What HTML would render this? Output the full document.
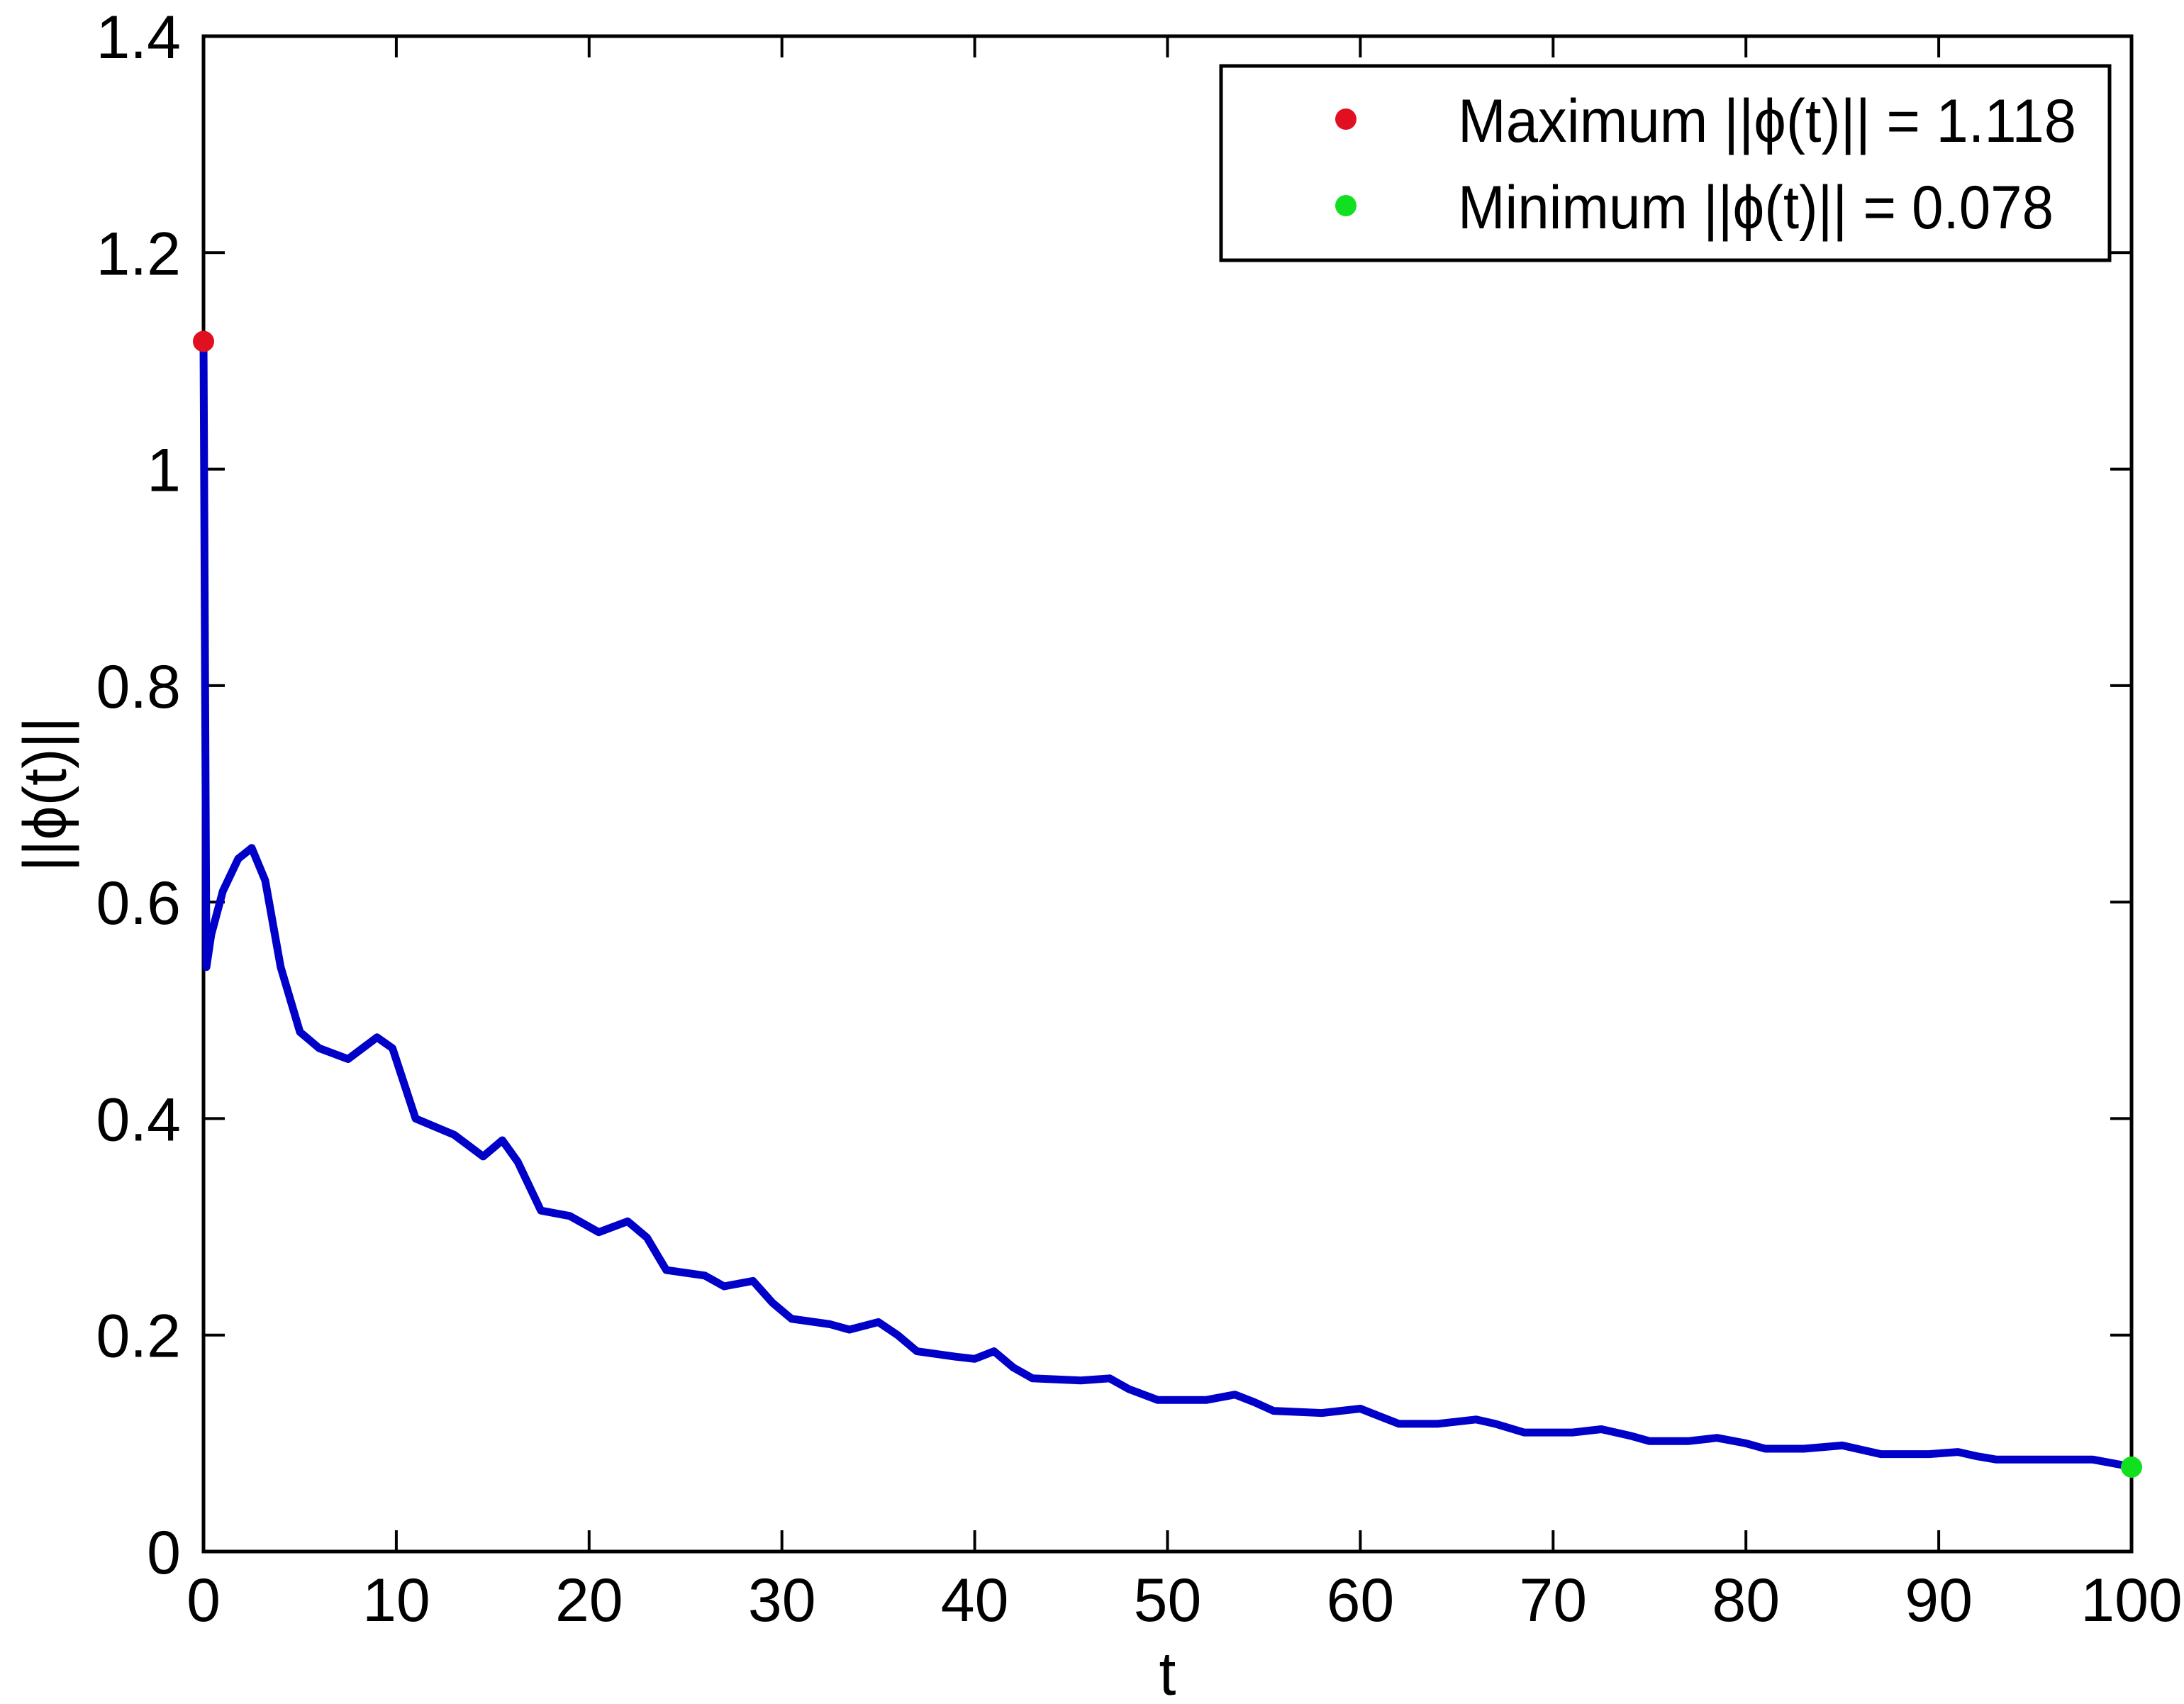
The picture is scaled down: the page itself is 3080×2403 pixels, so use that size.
<!DOCTYPE html>
<html><head><meta charset="utf-8"><style>
html,body{margin:0;padding:0;background:#fff;}
svg{display:block;font-family:"Liberation Sans",sans-serif;}
</style></head><body>
<svg id="chart" width="3080" height="2403" viewBox="0 0 3080 2403">
<rect x="0" y="0" width="3080" height="2403" fill="#fff"/>
<g id="plot"></g>
</svg>
<script>
const tVals=[0,0.15,0.4,1,1.8,2.5,3.2,4,5,6,7.5,9,9.8,11,13,14.5,15.5,16.3,17.5,19,20.5,22,23,24,26,27,28.5,29.5,30.5,32.5,33.5,35,36,37,39,40,41,42,43,45.5,47,48,49.5,52,53.5,54.5,55.5,58,60,61,62,64,66,67,68.5,71,72.5,74,75,77,78.5,80,81,83,85,86,87,89.5,91,92,93,96,98,99.5,100];
const yVals=[1.118,0.54,0.57,0.61,0.64,0.65,0.62,0.54,0.48,0.465,0.455,0.475,0.465,0.40,0.385,0.365,0.38,0.36,0.315,0.31,0.295,0.305,0.29,0.26,0.255,0.245,0.25,0.23,0.215,0.21,0.205,0.212,0.2,0.185,0.18,0.178,0.185,0.17,0.16,0.158,0.16,0.15,0.14,0.14,0.145,0.138,0.13,0.128,0.132,0.125,0.118,0.118,0.122,0.118,0.11,0.11,0.113,0.107,0.102,0.102,0.105,0.1,0.095,0.095,0.098,0.094,0.09,0.09,0.092,0.088,0.085,0.085,0.085,0.08,0.078];
const xTicks=[0,10,20,30,40,50,60,70,80,90,100];
const yTicks=[0,0.2,0.4,0.6,0.8,1,1.2,1.4];
const yTickLabels=["0","0.2","0.4","0.6","0.8","1","1.2","1.4"];
const maxPoint=[0,1.118];
const minPoint=[100,0.078];
const legendLabels=["Maximum ||\u03d5(t)|| = 1.118","Minimum ||\u03d5(t)|| = 0.078"];

const L=287,R=3006,T=51,B=2188;
const X=v=>L+(v-0)/(100-0)*(R-L);
const Y=v=>B-(v-0)/(1.4-0)*(B-T);
const NS="http://www.w3.org/2000/svg";
const g=document.getElementById('plot');
function mk(tag,attrs,parent){const e=document.createElementNS(NS,tag);for(const k in attrs)e.setAttribute(k,attrs[k]);(parent||g).appendChild(e);return e;}

const box=mk('rect',{x:L,y:T,width:R-L,height:B-T,fill:'none',stroke:'#000','stroke-width':5});



xTicks.forEach((v,i)=>{
  const x=X(v);
  const t1=mk('line',{x1:x,y1:B,x2:x,y2:B-30,stroke:'#000','stroke-width':4});
  
  
  const t2=mk('line',{x1:x,y1:T,x2:x,y2:T+30,stroke:'#000','stroke-width':4});
  
  
  const tx=mk('text',{x:x,y:2286,'text-anchor':'middle','font-size':86,fill:'#000'});
  tx.textContent=String(v);
  
  
});
yTicks.forEach((v,i)=>{
  const y=Y(v);
  const t1=mk('line',{x1:L,y1:y,x2:L+30,y2:y,stroke:'#000','stroke-width':4});
  
  
  const t2=mk('line',{x1:R,y1:y,x2:R-30,y2:y,stroke:'#000','stroke-width':4});
  
  
  const tx=mk('text',{x:255,y:y+31,'text-anchor':'end','font-size':86,fill:'#000'});
  tx.textContent=yTickLabels[i];
  
  
});

const pts=tVals.map((t,i)=>X(t).toFixed(1)+','+Y(yVals[i]).toFixed(1)).join(' ');
const line=mk('polyline',{points:pts,fill:'none',stroke:'#0000c8','stroke-width':11,'stroke-linejoin':'round'});



const mx=mk('circle',{cx:X(maxPoint[0]),cy:Y(maxPoint[1]),r:15,fill:'#e01020'});


const mn=mk('circle',{cx:X(minPoint[0]),cy:Y(minPoint[1]),r:15,fill:'#10e020'});



const xl=mk('text',{x:X(50),y:2390,'text-anchor':'middle','font-size':86,fill:'#000'});
xl.textContent='t';


const yl=mk('text',{x:0,y:0,'text-anchor':'middle','font-size':86,fill:'#000',transform:'translate(93,1120) rotate(-90)'});
yl.textContent='||\u03d5(t)||';



const lg=mk('g',{});


const lb=mk('rect',{x:1722,y:93,width:1253,height:274,fill:'#fff',stroke:'#000','stroke-width':5},lg);


const colors=['#e01020','#10e020'];
const rowsY=[168,290];
legendLabels.forEach((s,i)=>{
  const c=mk('circle',{cx:1898,cy:rowsY[i],r:15,fill:colors[i]},lg);
  
  
  const tx=mk('text',{x:2056,y:rowsY[i]+32,'font-size':86,fill:'#000',textLength:i===0?872:840,lengthAdjust:'spacingAndGlyphs'},lg);
  tx.textContent=s;
  
  
});
</script>
</body></html>
